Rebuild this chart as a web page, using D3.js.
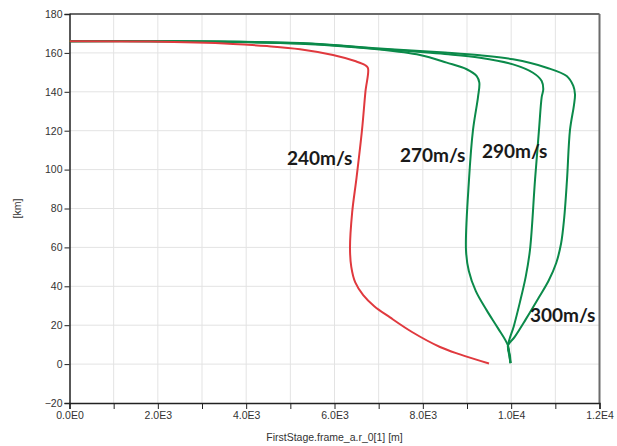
<!DOCTYPE html>
<html>
<head>
<meta charset="utf-8">
<script src="https://cdn.jsdelivr.net/npm/d3@7"></script>
<style>
  html, body { margin: 0; padding: 0; background: #fff; }
  svg { display: block; }
  .tick-label { font-family: "Liberation Sans", Arial, sans-serif; font-size: 10.5px; fill: #333; }
  .ann { font-family: Lato, "Open Sans", sans-serif; font-weight: 700; font-size: 19px; fill: #1a1a1a; }
</style>
</head>
<body>
<svg id="chart" width="617" height="446"></svg>
<script>
// ---- data (x in m, altitude in km) ----
const red240X = [0, 1823, 3702, 4472, 5219, 5966, 6464, 6690, 6758, 6700, 6623, 6500, 6400, 6351, 6380, 6470, 6650, 6900, 7257, 7755, 8389, 8841, 9498];
const red240Y = [166, 165.8, 164.6, 163.5, 161.9, 158.9, 155.8, 153.8, 152.2, 140, 120.4, 96.0, 78.0, 59.7, 50.0, 42.0, 35.5, 29.8, 24.0, 16.5, 8.8, 5.0, 0.3];

const green270X = [0, 2000, 5219, 7030, 7936, 8540, 8993, 9220, 9279, 9249, 9136, 9045, 8977, 9040, 9200, 9450, 9700, 9928, 9965, 9985];
const green270Y = [166, 166, 164.7, 161.7, 158.9, 155.0, 151.6, 148.1, 144.7, 137.3, 120.4, 94.7, 58.7, 48.0, 37.5, 27.5, 18.5, 9.5, 4.0, 0.5];

const green290X = [0, 2000, 5219, 7030, 8500, 9294, 10042, 10494, 10691, 10727, 10691, 10630, 10540, 10426, 10330, 10200, 10060, 9928, 9960, 9985];
const green290Y = [166, 166, 164.9, 162.0, 159.4, 157.5, 154.1, 149.8, 145.6, 141.3, 137.3, 120.4, 94.7, 58.7, 45.0, 32.0, 19.5, 9.5, 4.0, 0.5];

const green300X = [0, 2000, 5219, 7030, 8500, 9294, 10042, 10804, 11257, 11407, 11445, 11422, 11332, 11264, 11200, 11130, 11020, 10850, 10620, 10330, 10080, 9928, 9975, 9985];
const green300Y = [166, 166, 165.1, 162.3, 160.2, 158.8, 156.7, 152.4, 148.1, 143.0, 138.7, 133.2, 120.4, 94.7, 75.0, 62.0, 52.0, 43.0, 34.0, 23.0, 14.0, 9.5, 4.0, 0.5];

const labelTexts = ["240m/s", "270m/s", "290m/s", "300m/s"];
const labelX = [4925, 7483, 9340, 10426];
const labelY = [102.4, 104.1, 106.0, 21.8];

const xTickValues = [0, 2000, 4000, 6000, 8000, 10000, 12000];
const xTickLabels = ["0.0E0", "2.0E3", "4.0E3", "6.0E3", "8.0E3", "1.0E4", "1.2E4"];
const yTickValues = [-20, 0, 20, 40, 60, 80, 100, 120, 140, 160, 180];
const xTitle = "FirstStage.frame_a.r_0[1] [m]";
const yTitle = "[km]";

// ---- layout ----
const svg = d3.select("#chart");
const pLeft = 69.5, pRight = 599.5, pTop = 14, pBottom = 403;
const x = d3.scaleLinear().domain([0, 12000]).range([pLeft, pRight]);
const y = d3.scaleLinear().domain([-20, 180]).range([pBottom, pTop]);

// grid
const grid = svg.append("g");
grid.selectAll("line.vg").data(d3.range(1000, 12000, 1000)).join("line")
  .attr("x1", d => x(d)).attr("x2", d => x(d)).attr("y1", pTop).attr("y2", pBottom)
  .attr("stroke", "#e3e3e3").attr("stroke-width", 1);
grid.selectAll("line.hg").data(yTickValues.filter(v => v > -20 && v < 180)).join("line")
  .attr("x1", pLeft).attr("x2", pRight).attr("y1", d => y(d)).attr("y2", d => y(d))
  .attr("stroke", "#e3e3e3").attr("stroke-width", 1);

// frame (top / right)
svg.append("line").attr("x1", pLeft).attr("x2", pRight).attr("y1", pTop).attr("y2", pTop)
  .attr("stroke", "#6b6b6b").attr("stroke-width", 2);
svg.append("line").attr("x1", pRight).attr("x2", pRight).attr("y1", pTop).attr("y2", pBottom)
  .attr("stroke", "#6b6b6b").attr("stroke-width", 2);

// axes
const xAxis = d3.axisBottom(x).tickValues(d3.range(0, 12001, 1000)).tickSize(6)
  .tickFormat(d => { const i = xTickValues.indexOf(d); return i >= 0 ? xTickLabels[i] : ""; });
const gx = svg.append("g").attr("transform", `translate(0,${pBottom})`).call(xAxis);
gx.select(".domain").attr("stroke", "#222").attr("stroke-width", 1.5);
gx.selectAll(".tick line").attr("stroke", "#222");
gx.selectAll(".tick text").attr("class", "tick-label").attr("dy", "0.95em").attr("y", 6);

const yAxis = d3.axisLeft(y).tickValues(yTickValues).tickSize(5).tickFormat(d3.format("d"));
const gy = svg.append("g").attr("transform", `translate(${pLeft},0)`).call(yAxis);
gy.select(".domain").attr("stroke", "#222").attr("stroke-width", 1.5);
gy.selectAll(".tick line").attr("stroke", "#222");
gy.selectAll(".tick text").attr("class", "tick-label").attr("x", -7);

// titles
svg.append("text").attr("class", "tick-label").attr("x", (pLeft + pRight) / 2).attr("y", 441)
  .attr("text-anchor", "middle").text(xTitle);
svg.append("text").attr("class", "tick-label")
  .attr("transform", `translate(21,${(pTop + pBottom) / 2}) rotate(-90)`)
  .attr("text-anchor", "middle").text(yTitle);

// series
const line = d3.line().x(d => x(d[0])).y(d => y(d[1])).curve(d3.curveCatmullRom.alpha(0.5));
const series = [
  { xs: green300X, ys: green300Y, color: "#0b8a4a" },
  { xs: green290X, ys: green290Y, color: "#0b8a4a" },
  { xs: green270X, ys: green270Y, color: "#0b8a4a" },
  { xs: red240X, ys: red240Y, color: "#e0393e" }
];
svg.append("g").selectAll("path").data(series).join("path")
  .attr("d", s => line(s.xs.map((v, i) => [v, s.ys[i]])))
  .attr("fill", "none").attr("stroke", s => s.color).attr("stroke-width", 2)
  .attr("stroke-linejoin", "round");

// annotations
svg.append("g").selectAll("text").data(labelTexts).join("text")
  .attr("class", "ann")
  .attr("x", (d, i) => x(labelX[i])).attr("y", (d, i) => y(labelY[i]))
  .text(d => d);
</script>
</body>
</html>
